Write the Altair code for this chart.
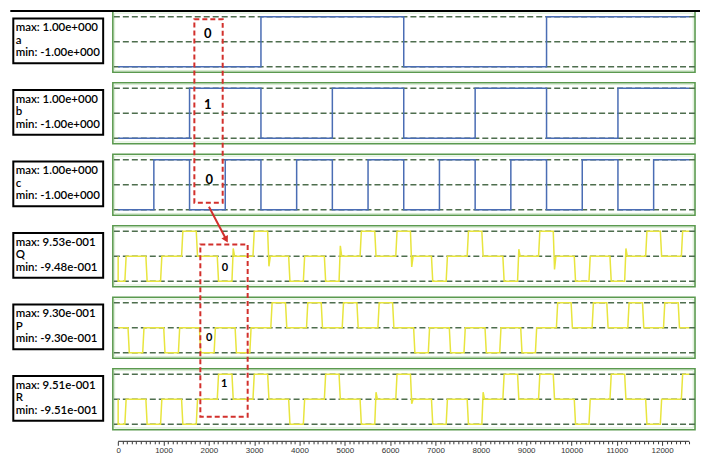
import altair as alt
import pandas as pd

# ---------------- values ----------------
# bit-slot boundaries on the time axis
t_edges = [0, 787.5, 1575, 2362.5, 3150, 3937.5, 4725, 5512.5, 6300,
           7087.5, 7875, 8662.5, 9450, 10237.5, 11025, 11812.5, 12600]

# digital inputs, level per bit slot (+1 = high, -1 = low)
a_levels = [-1, -1, -1, -1, 1, 1, 1, 1, -1, -1, -1, -1, 1, 1, 1, 1]
b_levels = [-1, -1, 1, 1, -1, -1, 1, 1, -1, -1, 1, 1, -1, -1, 1, 1]
c_levels = [-1, 1, -1, 1, -1, 1, -1, 1, -1, 1, -1, 1, -1, 1, -1, 1]

# return-to-zero outputs: pulse polarity (P centred in each slot, Q/R on slot edges)
P_signs = [-1, -1, -1, -1, 1, 1, 1, 1, -1, -1, -1, -1, 1, 1, 1, 1]
Q_signs = [-1, -1, 1, -1, 1, -1, -1, 1, 1, -1, 1, -1, 1, -1, -1, 1, 1]
R_signs = [-1, -1, -1, 1, 1, -1, 1, -1, 1, -1, -1, 1, 1, -1, 1, -1, 1]
# overshoot at the trailing edge of each pulse
P_over = [0] * 16
Q_over = [0, 0, 0, 0.3, -0.38, 0, 0.4, 0, -0.4, 0, 0, 0.27, -0.5, 0, 0.3, 0, 0]
R_over = [0, 0, 0, 0, 0, 0, 0, 0.27, -0.17, 0, 0.27, 0, 0, 0, 0, 0, 0]

names = ["a", "b", "c", "Q", "P", "R"]
max_vals = [1.0, 1.0, 1.0, 0.953, 0.930, 0.951]
min_vals = [-1.0, -1.0, -1.0, -0.948, -0.930, -0.951]
max_text = ["max: 1.00e+000", "max: 1.00e+000", "max: 1.00e+000",
            "max: 9.53e-001", "max: 9.30e-001", "max: 9.51e-001"]
min_text = ["min: -1.00e+000", "min: -1.00e+000", "min: -1.00e+000",
            "min: -9.48e-001", "min: -9.30e-001", "min: -9.51e-001"]

# red annotation digits (time, value in each panel)
digit_text = ["0", "1", "0", "0", "0", "1"]
digit_t = [1975, 1975, 2010, 2356, 2010, 2340]
digit_v = [0.31, 0.32, 0.21, -0.43, -0.39, 0.59]

# red dashed frames / arrow (time, value)
box1_t = [1681, 2306]      # drawn in panel c
box1_v = [6.63, -0.72]
box2_t = [1813, 2857]      # drawn in panel R
box2_v = [5.90, -0.666]
arrow_t = [2003, 2384]     # drawn in panel Q
arrow_v = [1.889, 0.638]

tick_values = list(range(0, 12601, 100))

# ---------------- style ----------------
W, H = 583, 61
X_DOMAIN = [-117, 12725]
GREEN = "#5b9a4f"
GREEN_IN = "#d6ecd0"
DASH = "#4e6e4e"
BLUE = "#4a6db4"
YELLOW = "#e8e53e"
RED = "#d2302c"
HW = 176     # pulse half width
EDGE = 28    # pulse edge time

xs = alt.Scale(domain=X_DOMAIN, nice=False, zero=False)


def ex(f):
    return alt.X(f, type="quantitative", scale=xs, axis=None)


def ey(f, ys):
    return alt.Y(f, type="quantitative", scale=ys, axis=None)


def step_df(levels, vmax, vmin):
    v = [vmax if l > 0 else vmin for l in levels]
    v.append(v[-1])
    return pd.DataFrame({"t": t_edges, "v": v, "i": list(range(len(t_edges)))})


def pulse_df(centers, signs, vmax, vmin, over):
    start, end = t_edges[0], t_edges[-1]
    pts = [(start, 0.0)]
    for c, s, o in zip(centers, signs, over):
        v = vmax if s > 0 else vmin
        seq = [(c - HW, 0.0), (c - HW + EDGE, v), (c + HW - EDGE, v), (c + HW, o)]
        if o != 0:
            seq.append((c + HW + 30, 0.0))
        for t, val in seq:
            if t > end:
                if pts[-1][0] < end:
                    pts.append((end, val))
                continue
            pts.append((max(t, start), val))
    if pts[-1][0] < end:
        pts.append((end, 0.0))
    return pd.DataFrame({"t": [p[0] for p in pts], "v": [p[1] for p in pts],
                         "i": list(range(len(pts)))})


mids = [(t_edges[k] + t_edges[k + 1]) / 2 for k in range(len(t_edges) - 1)]

signals = [
    (step_df(a_levels, 1.0, -1.0), BLUE, "step-after"),
    (step_df(b_levels, 1.0, -1.0), BLUE, "step-after"),
    (step_df(c_levels, 1.0, -1.0), BLUE, "step-after"),
    (pulse_df(t_edges, Q_signs, max_vals[3], min_vals[3], Q_over), YELLOW, "linear"),
    (pulse_df(mids, P_signs, max_vals[4], min_vals[4], P_over), YELLOW, "linear"),
    (pulse_df(t_edges, R_signs, max_vals[5], min_vals[5], R_over), YELLOW, "linear"),
]

one = pd.DataFrame({"k": [0]})


def red_box(ts, vs, ys):
    df = pd.DataFrame({"t": [ts[0]], "t2": [ts[1]], "v": [vs[0]], "v2": [vs[1]]})
    return alt.Chart(df).mark_rect(fillOpacity=0, stroke=RED, strokeWidth=2,
                                   strokeDash=[5, 3]).encode(
        x=ex("t"), x2=alt.X2("t2"), y=ey("v", ys), y2=alt.Y2("v2"))


def extras(i, ys):
    out = []
    if i == 0:
        out.append(alt.Chart(one).mark_rule(color="black", strokeWidth=2).encode(
            x=alt.value(-102.7), x2=alt.value(588), y=alt.value(-0.3)))
    if i == 2:
        out.append(red_box(box1_t, box1_v, ys))
    if i == 3:
        df = pd.DataFrame({"t": [arrow_t[0]], "t2": [arrow_t[1]],
                           "v": [arrow_v[0]], "v2": [arrow_v[1]]})
        out.append(alt.Chart(df).mark_rule(color=RED, strokeWidth=2).encode(
            x=ex("t"), x2=alt.X2("t2"), y=ey("v", ys), y2=alt.Y2("v2")))
        out.append(alt.Chart(df).mark_point(shape="triangle-up", angle=151, filled=True,
                                            size=55, color=RED, opacity=1).encode(
            x=ex("t2"), y=ey("v2", ys)))
    if i == 5:
        out.append(red_box(box2_t, box2_v, ys))
    return out


def panel(i):
    vmax, vmin = max_vals[i], min_vals[i]
    ys = alt.Scale(domain=[vmin * 1.22, vmax * 1.22], nice=False, zero=False)
    sig_df, color, interp = signals[i]
    inner = alt.Chart(one).mark_rect(fillOpacity=0, stroke=GREEN_IN, strokeWidth=1).encode(
        x=alt.value(1.8), x2=alt.value(W - 1.8), y=alt.value(1.8), y2=alt.value(H - 1.8))
    refs = alt.Chart(pd.DataFrame({"v": [vmax, 0.0, vmin]})).mark_rule(
        color=DASH, strokeWidth=1.5, strokeDash=[6, 3]).encode(y=ey("v", ys))
    sig = alt.Chart(sig_df).mark_line(color=color, strokeWidth=1.5, interpolate=interp).encode(
        x=ex("t"), y=ey("v", ys), order=alt.Order("i:Q"))
    lab_df = pd.DataFrame({"top": [max_text[i]], "name": [names[i]], "bot": [min_text[i]]})
    box = alt.Chart(lab_df).mark_rect(fill="white", stroke="black", strokeWidth=2).encode(
        x=alt.value(-99.7), x2=alt.value(-9.7), y=alt.value(7.2), y2=alt.value(52.0))
    texts = [alt.Chart(lab_df).mark_text(align="left", baseline="middle", font="Lato",
                                         fontSize=11.5, fontWeight=600, color="black").encode(
        x=alt.value(-97.3), y=alt.value(yy), text=f"{col}:N")
        for col, yy in (("top", 17), ("name", 29.5), ("bot", 42))]
    dig_df = pd.DataFrame({"t": [digit_t[i]], "v": [digit_v[i]], "s": [digit_text[i]]})
    dig = alt.Chart(dig_df).mark_text(font="Lato", fontWeight="bold",
                                      fontSize=13 if i < 3 else 11, color="black").encode(
        x=ex("t"), y=ey("v", ys), text="s:N")
    layers = [inner, refs, sig, box] + texts + [dig] + extras(i, ys)
    return alt.layer(*layers).properties(
        width=W, height=H, view=alt.ViewBackground(stroke=GREEN, strokeWidth=1.6))


rows = [panel(i) for i in range(6)]

axis_df = pd.DataFrame({"t": [t_edges[0]], "t2": [t_edges[-1]]})
axis_chart = alt.Chart(axis_df).mark_rule(color="#222", strokeWidth=1).encode(
    x=alt.X("t", type="quantitative", scale=xs, axis=alt.Axis(
        values=tick_values, domain=False, grid=False, format="d", title=None,
        labelExpr="datum.value % 1000 === 0 ? datum.label : ''",
        tickSize={"condition": {"test": "datum.value % 1000 === 0", "value": 4}, "value": 2.5},
        tickColor="#222", tickWidth=0.9, labelFont="Liberation Sans", labelFontSize=8,
        labelColor="#333", labelPadding=1, labelOverlap=False, labelFlush=False)),
    x2=alt.X2("t2"), y=alt.value(1)
).properties(width=W, height=1)

chart = alt.vconcat(*rows, axis_chart, spacing=10.6, bounds="flush").properties(
    padding={"left": 0, "top": 0, "right": 0, "bottom": 2}
).configure_view(strokeWidth=0)

chart.save("out.html", embed_options={"renderer": "svg", "actions": False})
